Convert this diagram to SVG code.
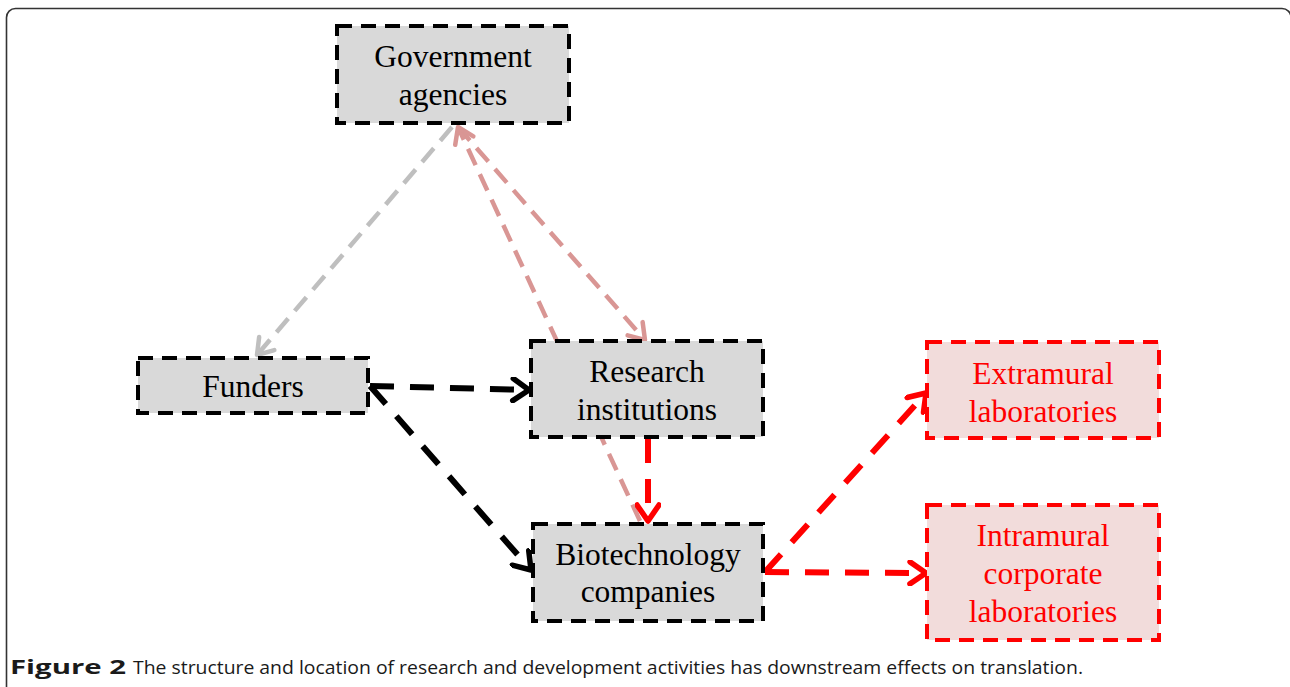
<svg xmlns="http://www.w3.org/2000/svg" width="1290" height="687" viewBox="0 0 1290 687">
<style>
.box{fill:#d9d9d9;stroke:#000;stroke-width:4;stroke-dasharray:15 9}
.rbox{fill:#f2dcdb;stroke:#ff0000;stroke-width:4;stroke-dasharray:15 9}
.t{font-family:"Liberation Serif","Times New Roman",serif;font-size:31.5px;text-anchor:middle;fill:#000}
.rt{fill:#ff0000}
.c{fill:none;stroke-linecap:butt}
.blk{stroke:#000;stroke-width:6;stroke-dasharray:24 16}
.red{stroke:#ff0000;stroke-width:6;stroke-dasharray:24 16}
.gry{stroke:#bfbfbf;stroke-width:4.5;stroke-dasharray:18 10}
.pnk{stroke:#d99694;stroke-width:4.5;stroke-dasharray:18 10}
.cap{font-family:"Open Sans","Liberation Sans",sans-serif;font-size:18.5px;fill:#1a1a1a}
</style>
<defs>
<marker id="aB" markerUnits="userSpaceOnUse" markerWidth="26" markerHeight="26" viewBox="0 0 26 26" refX="21" refY="13" orient="auto"><path d="M5,2 L21,13 L5,24" fill="none" stroke="#000" stroke-width="5.5" stroke-linecap="round" stroke-linejoin="round"/></marker>
<marker id="aR" markerUnits="userSpaceOnUse" markerWidth="26" markerHeight="26" viewBox="0 0 26 26" refX="21" refY="13" orient="auto"><path d="M5,2 L21,13 L5,24" fill="none" stroke="#ff0000" stroke-width="5.5" stroke-linecap="round" stroke-linejoin="round"/></marker>
<marker id="aG" markerUnits="userSpaceOnUse" markerWidth="26" markerHeight="26" viewBox="0 0 26 26" refX="21" refY="13" orient="auto"><path d="M6,3 L21,13 L6,23" fill="none" stroke="#bfbfbf" stroke-width="4.5" stroke-linecap="round" stroke-linejoin="round"/></marker>
<marker id="aP" markerUnits="userSpaceOnUse" markerWidth="26" markerHeight="26" viewBox="0 0 26 26" refX="21" refY="13" orient="auto"><path d="M6,3 L21,13 L6,23" fill="none" stroke="#d99694" stroke-width="4.5" stroke-linecap="round" stroke-linejoin="round"/></marker>
</defs>
<rect x="0" y="0" width="1290" height="687" fill="#fff"/>
<rect x="6.5" y="8.5" width="1284.5" height="700" rx="9" fill="none" stroke="#333" stroke-width="1.6"/>
<g id="connectors">
<path class="c gry" d="M452,127 L257,355" marker-end="url(#aG)"/>
<path class="c pnk" d="M458,127 L645,340" marker-end="url(#aP)"/>
<path class="c pnk" d="M640,521 L458,127" marker-end="url(#aP)"/>
<path class="c blk" d="M370,386 L529,390" marker-end="url(#aB)"/>
<path class="c blk" d="M370,386 L531,570" marker-end="url(#aB)"/>
<path class="c red" d="M648,439 L648,521" marker-end="url(#aR)"/>
<path class="c red" d="M765,572 L926,393" marker-end="url(#aR)"/>
<path class="c red" d="M765,572 L926,573" marker-end="url(#aR)"/>
</g>
<g id="gov">
<rect class="box" x="337" y="26" width="232" height="97"/>
<text class="t" x="453" y="67">Government</text>
<text class="t" x="453" y="105">agencies</text>
</g>
<g id="funders">
<rect class="box" x="138" y="358" width="230" height="55"/>
<text class="t" x="253" y="397">Funders</text>
</g>
<g id="research">
<rect class="box" x="531" y="341" width="232" height="96"/>
<text class="t" x="647" y="382">Research</text>
<text class="t" x="647" y="420">institutions</text>
</g>
<g id="biotech">
<rect class="box" x="533" y="524" width="230" height="97"/>
<text class="t" x="648" y="565">Biotechnology</text>
<text class="t" x="648" y="602">companies</text>
</g>
<g id="extramural">
<rect class="rbox" x="927" y="342" width="232" height="96"/>
<text class="t rt" x="1043" y="384">Extramural</text>
<text class="t rt" x="1043" y="422">laboratories</text>
</g>
<g id="intramural">
<rect class="rbox" x="927" y="505" width="232" height="135"/>
<text class="t rt" x="1043" y="546">Intramural</text>
<text class="t rt" x="1043" y="584">corporate</text>
<text class="t rt" x="1043" y="622">laboratories</text>
</g>
<text class="cap" x="10" y="674" font-weight="bold" font-size="19.5" style="font-size:19.5px" textLength="116" lengthAdjust="spacingAndGlyphs">Figure 2</text>
<text class="cap" x="133" y="674" textLength="950" lengthAdjust="spacingAndGlyphs">The structure and location of research and development activities has downstream effects on translation.</text>
</svg>
